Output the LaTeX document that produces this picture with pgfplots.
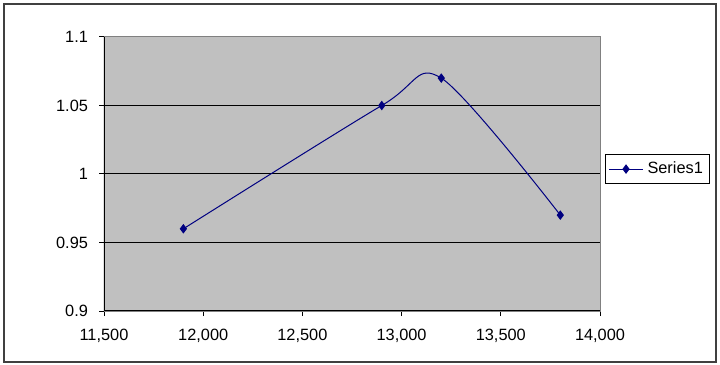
\documentclass[border=0pt]{standalone}
\usepackage{pgfplots}
\pgfplotsset{compat=1.18}
\usepackage{fontspec}
\setmainfont{Liberation Sans}
\definecolor{plotgray}{HTML}{C0C0C0}
\definecolor{navy}{HTML}{000080}
\newcommand\tl{\fontsize{8.2}{10}\selectfont}
\begin{document}
\begin{tikzpicture}[x=1bp,y=1bp]
\useasboundingbox (0,0) rectangle (360,182.5);
\draw[line width=0.8bp,draw=black!75] (2,1.5) rectangle (358,180.5);
\begin{axis}[
  at={(52bp,27bp)}, anchor=origin,
  scale only axis, width=248bp, height=137bp,
  xmin=11500, xmax=14000, ymin=0.9, ymax=1.1,
  xtick={11500,12000,12500,13000,13500,14000},
  xticklabels={{11,500},{12,000},{12,500},{13,000},{13,500},{14,000}},
  ytick={0.9,0.95,1,1.05,1.1},
  yticklabels={0.9,0.95,1,1.05,1.1},
  scaled x ticks=false,
  tick align=outside, xtick pos=left, ytick pos=left,
  major tick length=2.5bp,
  tick style={black, line width=0.5bp},
  ymajorgrids, grid style={black, line width=0.5bp},
  axis line style={draw=black!50, line width=0.5bp},
  axis background/.style={fill=plotgray},
  tick label style={font=\tl},
  xticklabel style={text=black, yshift=-3bp},
  yticklabel style={text=black, xshift=-2bp},
  legend style={at={(1.0101,0.518)}, anchor=west, draw=black, line width=0.5bp,
    font=\tl, inner sep=1.5bp, row sep=0pt},
  legend cell align=left,
]
\addplot[navy, line width=0.5bp, smooth, tension=0.5, mark=diamond*, mark size=2bp, mark options={fill=navy, draw=navy}]
  coordinates {(11900,0.96) (12900,1.05) (13200,1.07) (13800,0.97)};
\addlegendentry{Series1}
\draw[black, line width=0.6bp] (rel axis cs:0,1) -- (rel axis cs:0,0) -- (rel axis cs:1,0);
\end{axis}
\end{tikzpicture}
\end{document}
